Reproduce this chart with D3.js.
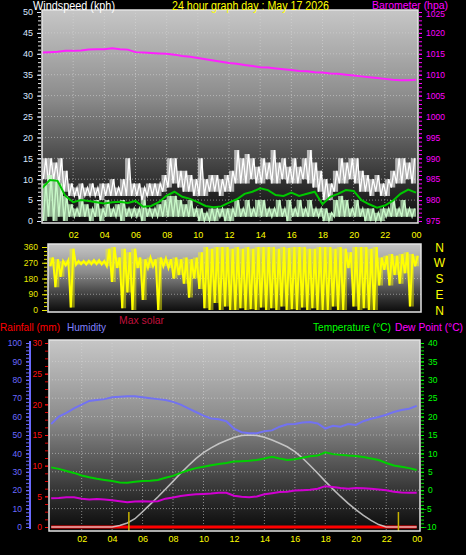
<!DOCTYPE html>
<html><head><meta charset="utf-8">
<script src="https://cdn.jsdelivr.net/npm/d3@7"></script>
<style>html,body{margin:0;padding:0;background:#000;}svg{display:block;font-family:"Liberation Sans",Arial,sans-serif;}</style>
</head><body><svg id="c" width="466" height="555"></svg>
<script>
// ---------------- DATA ----------------
const hourLabels = ["02","04","06","08","10","12","14","16","18","20","22","00"];
// 20-minute intervals (72): wind gust range (kph)
const gustHi = [15,15,14, 15,12,9, 8,9,8, 9,8,9, 9,10,8, 10,15,9, 9,8,9, 9,9,11, 15,15,12, 12,11,10, 15,10,11, 11,10,11,
                12,17,15, 16,15,13, 15,14,17, 14,15,13, 15,13,15, 17,14,12, 10,9,12, 15,14,15, 15,12,11, 10,11,9, 10,12,15, 15,14,15];
const gustLo = [10,9,10, 9,7,6, 6,5,6, 6,6,5, 6,6,6, 6,6,6, 6,5,6, 6,6,7, 8,9,8, 7,7,6, 6,6,7, 7,6,7,
                7,9,9, 9,10,9, 9,10,9, 9,10,9, 9,9,10, 9,8,7, 5,5,7, 9,9,10, 9,7,7, 6,7,6, 6,8,9, 9,10,9];
// 20-minute intervals: wind speed range (kph)
const speedHi = [9,11,10, 9,6,4, 3,5,4, 3,5,3, 5,3,4, 5,3,3, 3,5,3, 3,4,5, 6,6,5, 4,5,3, 3,2,3, 3,3,3,
                 3,5,3, 5,3,5, 5,3,3, 5,3,5, 3,5,3, 5,3,3, 3,2,5, 6,5,3, 5,3,3, 3,2,3, 3,5,3, 5,3,3];
const speedLo = [0,1,0, 1,0,1, 1,1,1, 0,1,0, 1,1,1, 0,1,1, 1,0,1, 1,1,1, 1,1,1, 1,1,1, 0,0,0, 0,1,0,
                 0,1,1, 1,1,1, 1,1,1, 1,1,0, 1,1,1, 1,1,1, 0,0,1, 1,1,1, 1,1,0, 0,0,0, 1,1,1, 1,1,1];
// half-hourly (49): average wind speed (kph)
const avgWind = [7.8,9.8,9.6,6.0,4.5,5.0,4.8,4.5,4.2,4.5,4.6,4.3,4.8,3.4,3.6,4.5,6.1,7.0,5.8,5.3,4.5,3.6,3.3,3.5,
                 4.4,5.2,6.5,7.0,7.8,7.4,6.2,6.0,6.8,6.0,6.5,7.0,4.0,5.8,6.5,7.4,7.2,5.0,4.0,3.2,3.7,4.8,6.5,7.5,6.8];
// half-hourly: barometer (hPa)
const baro = [1015.3,1015.4,1015.5,1015.7,1015.7,1015.8,1016.0,1016.1,1016.1,1016.3,1016.1,1016.0,1015.4,1015.3,1015.2,1015.1,
              1015.0,1014.8,1014.5,1014.3,1014.0,1013.7,1013.4,1013.1,1012.8,1012.6,1012.3,1012.1,1011.8,1011.7,1011.5,1011.3,
              1011.1,1010.9,1010.8,1010.6,1010.5,1010.3,1010.2,1010.0,1009.8,1009.6,1009.4,1009.2,1009.0,1008.8,1008.7,1008.7,1008.8];
// 20-minute intervals: wind direction range (deg)
const dirMax = [300,290,280, 285,350,280, 280,282,285, 285,280,350, 360,300,350, 330,350,300, 290,300,290, 300,295,290,
                300,290,300, 290,300,330, 360,350,360, 360,360,350, 360,350,360, 350,360,360, 360,360,350, 360,355,360,
                360,360,350, 350,360,360, 360,350,360, 350,330,360, 360,360,350, 360,300,310, 320,310,320, 330,320,310];
const dirMin = [250,130,190, 255,15,258, 262,260,262, 262,260,250, 160,240,10, 100,0,240, 57,240,250, 0,250,240,
                180,200,150, 71,180,120, 10,0,40, 0,20,0, 0,10,0, 5,0,15, 0,10,0, 20,0,5,
                0,15,0, 10,0,0, 0,20,0, 0,240,20, 0,10,0, 0,140,230, 140,200,150, 210,20,250];
// half-hourly: humidity (%), temperature, dew point (°C), max solar (scaled 0-100), rainfall (mm)
const humidity = [56,60,62,64.5,66.5,68.5,69,69.5,70.5,70.8,71,71,70.5,70,69.5,69,68,66.5,64.5,62.5,60.5,59,58.5,57.5,
                  53.5,51.5,51,51,52,52.5,54.5,55.8,56,56.8,57,56.3,53.5,55,54.5,56,55.5,57.5,58.8,59.8,61,62.5,63.6,64.3,65.8];
const temperature = [6.2,5.8,5.2,4.7,4.0,3.5,3.1,2.8,2.5,2.1,2.0,2.3,2.5,2.6,2.8,3.4,3.9,4.7,5.4,6.0,6.4,6.8,7.1,7.4,
                     7.8,7.9,8.0,8.2,8.6,9.1,8.6,8.2,8.4,8.8,9.2,9.4,10.3,9.8,9.6,9.4,9.3,9.0,8.6,8.2,7.4,6.7,6.4,6.0,5.5];
const dewPoint = [-2.2,-2.1,-1.9,-1.9,-2.3,-2.5,-2.4,-2.5,-2.7,-3.0,-3.3,-3.1,-3.0,-3.1,-3.0,-2.3,-2.0,-1.6,-1.3,-1.1,-1.0,-0.9,-0.7,-0.7,
                  -1.5,-1.8,-1.9,-1.7,-1.1,-0.8,-0.5,-0.4,-0.1,0.0,0.1,0.4,1.1,0.9,0.6,0.4,0.6,0.5,0.4,0.2,0.0,-0.4,-0.6,-0.7,-0.7];
const maxSolar = [0,0,0,0,0,0,0,0,0,0.8,2.2,4.5,8.3,12.3,16.3,20.5,24.8,29.2,33.3,37.2,40.4,43.0,45.2,47.0,
                  48.7,49.7,50.0,49.8,48.8,47.3,45.5,43.6,41.0,37.5,33.4,29.2,24.8,20.6,16.6,12.8,9.4,6.3,3.6,1.3,0,0,0,0,0];
const rainfall = [0,0,0,0,0,0,0,0,0,0,0,0,0,0,0,0,0,0,0,0,0,0,0,0,0,0,0,0,0,0,0,0,0,0,0,0,0,0,0,0,0,0,0,0,0,0,0,0,0];
const sunMarks = [5.1, 22.8];
const compass = ["N","W","S","E","N"];

// ---------------- DRAW ----------------
const svg = d3.select("#c");
const defs = svg.append("defs");
function grad(id){
  const g = defs.append("linearGradient").attr("id",id).attr("x1",0).attr("x2",0).attr("y1",0).attr("y2",1);
  [[0,"#c6c6c6"],[0.2,"#ababab"],[0.42,"#8a8a8a"],[0.64,"#575757"],[0.82,"#2e2e2e"],[1,"#0a0a0a"]]
    .forEach(s=>g.append("stop").attr("offset",s[0]).attr("stop-color",s[1]));
}
grad("bg");
svg.append("rect").attr("width",466).attr("height",555).attr("fill","#000");

const halfT = i => i/2;          // half-hour sample times
const thirdT = i => i/3;         // 20-min interval start times

function plotBox(x0,y0,x1,y1){
  svg.append("rect").attr("x",x0).attr("y",y0).attr("width",x1-x0).attr("height",y1-y0).attr("fill","url(#bg)");
}
function frame(x0,y0,x1,y1){
  svg.append("rect").attr("x",x0).attr("y",y0).attr("width",x1-x0).attr("height",y1-y0)
    .attr("fill","none").attr("stroke","#e4e4e4").attr("stroke-width",1.5);
}
function zig(lo,hi,x,y){
  const p=[];
  lo.forEach((l,i)=>{const t=thirdT(i); p.push([x(t+1/12),y(l)]); p.push([x(t+3/12),y(hi[i])]);});
  return p;
}
function bandPath(lo,hi,x,y){
  const lo2 = lo.concat([lo[lo.length-1]]), hi2 = hi.concat([hi[hi.length-1]]);
  return d3.area().curve(d3.curveStepAfter).x((d,i)=>x(thirdT(i))).y0((d,i)=>y(lo2[i])).y1((d,i)=>y(hi2[i]))(hi2);
}
const grid = {stroke:"#d8d8d8","stroke-dasharray":"1,2","stroke-opacity":0.55,"stroke-width":1};
function applyAttrs(sel,o){for(const k in o) sel.attr(k,o[k]); return sel;}
function styleAxis(g,color,size){
  g.select(".domain").remove();
  g.selectAll("line").attr("stroke",color);
  g.selectAll("text").attr("fill",color).style("font-size",size+"px").style("font-family",'"Liberation Sans",Arial,sans-serif');
}

// ===== TOP CHART =====
const xTop = d3.scaleLinear().domain([0,24]).range([42,416]);
const yWind = d3.scaleLinear().domain([0,50]).range([221,12]);
const yBaro = d3.scaleLinear().domain([975,1025]).range([221,12]);
plotBox(42,10,418,223);
d3.range(5,50,5).forEach(v=>applyAttrs(svg.append("line").attr("x1",42).attr("x2",418).attr("y1",yWind(v)).attr("y2",yWind(v)),grid));
d3.range(2,24,2).forEach(t=>applyAttrs(svg.append("line").attr("x1",xTop(t)).attr("x2",xTop(t)).attr("y1",10).attr("y2",223),grid));

const line = d3.line();
svg.append("path").attr("d",bandPath(gustLo,gustHi,xTop,yWind)).attr("fill","#ffffff").attr("fill-opacity",0.6);
svg.append("path").attr("d",line(zig(gustLo,gustHi,xTop,yWind))).attr("fill","none").attr("stroke","#ffffff").attr("stroke-width",1.3);
svg.append("path").attr("d",bandPath(speedLo,speedHi,xTop,yWind)).attr("fill","#c8f8c8").attr("fill-opacity",0.7);
svg.append("path").attr("d",line(zig(speedLo,speedHi,xTop,yWind))).attr("fill","none").attr("stroke","#c8f8c8").attr("stroke-width",1.4);
svg.append("path").attr("d",d3.line().x((d,i)=>xTop(halfT(i))).y(d=>yWind(d))(avgWind)).attr("fill","none").attr("stroke","#00c800").attr("stroke-width",2);
svg.append("path").attr("d",d3.line().x((d,i)=>xTop(halfT(i))).y(d=>yBaro(d))(baro)).attr("fill","none").attr("stroke","#ff20ff").attr("stroke-width",2);
frame(42,10,418,223);

let g = svg.append("g").attr("transform","translate(41,0)").call(d3.axisLeft(yWind).tickValues(d3.range(0,51,1)).tickFormat("").tickSize(3));
styleAxis(g,"#e8e8e8",9);
g = svg.append("g").attr("transform","translate(41,0)").call(d3.axisLeft(yWind).tickValues(d3.range(0,51,5)).tickSize(4).tickPadding(4));
styleAxis(g,"#d8e6ff",9);
g = svg.append("g").attr("transform","translate(419,0)").call(d3.axisRight(yBaro).tickValues(d3.range(975,1026,1)).tickFormat("").tickSize(3));
styleAxis(g,"#ff00ff",8.5);
g = svg.append("g").attr("transform","translate(419,0)").call(d3.axisRight(yBaro).tickValues(d3.range(975,1026,5)).tickFormat(d3.format("d")).tickSize(3).tickPadding(4));
styleAxis(g,"#ff00ff",8.5);
g.selectAll(".tick text").filter(d=>d===1025).attr("dy","0.55em");
g = svg.append("g").attr("transform","translate(0,224)").call(d3.axisBottom(xTop).tickValues(d3.range(2,25,2)).tickFormat((d,i)=>hourLabels[i]).tickSize(0).tickPadding(8));
styleAxis(g,"#ffff00",9);

function label(x,y,color,len,txt,size){
  svg.append("text").attr("x",x).attr("y",y).attr("fill",color).style("font-size",(size||11)+"px")
    .attr("textLength",len).attr("lengthAdjust","spacingAndGlyphs").text(txt);
}
label(33,9.5,"#ffffff",82,"Windspeed (kph)",12);
label(172,9.5,"#ffff00",157,"24 hour graph day : May 17 2026",12);
label(372,8.5,"#ff00ff",76,"Barometer (hpa)",11);

// ===== MIDDLE CHART (wind direction) =====
const xMid = d3.scaleLinear().domain([0,24]).range([49,419]);
const yDir = d3.scaleLinear().domain([0,360]).range([310,247]);
plotBox(48,244,421,312);
[90,180,270].forEach(v=>applyAttrs(svg.append("line").attr("x1",48).attr("x2",421).attr("y1",yDir(v)).attr("y2",yDir(v)),grid));
svg.append("path").attr("d",bandPath(dirMin,dirMax,xMid,yDir)).attr("fill","#ffff00").attr("fill-opacity",0.45);
svg.append("path").attr("d",line(zig(dirMin,dirMax,xMid,yDir))).attr("fill","none").attr("stroke","#ffff00").attr("stroke-width",2);
frame(48,244,421,312);
g = svg.append("g").attr("transform","translate(47,0)").call(d3.axisLeft(yDir).tickValues(d3.range(0,361,22.5)).tickFormat("").tickSize(3));
styleAxis(g,"#e8e800",8.5);
g = svg.append("g").attr("transform","translate(47,0)").call(d3.axisLeft(yDir).tickValues([0,90,180,270,360]).tickSize(5).tickPadding(4));
styleAxis(g,"#e8e800",8.5);
compass.forEach((c,i)=>svg.append("text").attr("x",439.5).attr("y",yDir(360-i*90)+4.5).attr("text-anchor","middle")
   .attr("fill","#ffff00").style("font-size","12px").text(c));

// ===== BOTTOM CHART =====
const xBot = d3.scaleLinear().domain([0,24]).range([51.2,416.7]);
const yHum = d3.scaleLinear().domain([0,100]).range([527,343]);
const yRain = d3.scaleLinear().domain([0,30]).range([527,343]);
const yTemp = d3.scaleLinear().domain([-10,40]).range([527,343]);
plotBox(49,340,420,531);
d3.range(-5,40,5).forEach(v=>applyAttrs(svg.append("line").attr("x1",49).attr("x2",420).attr("y1",yTemp(v)).attr("y2",yTemp(v)),grid));
d3.range(2,24,2).forEach(t=>applyAttrs(svg.append("line").attr("x1",xBot(t)).attr("x2",xBot(t)).attr("y1",340).attr("y2",531),grid));

const lh = () => d3.line().x((d,i)=>xBot(halfT(i)));
svg.append("path").attr("d",lh().y(d=>yRain(d))(rainfall)).attr("fill","none").attr("stroke","#ff0000").attr("stroke-width",3);
svg.append("path").attr("d",lh().y(d=>yHum(d))(maxSolar)).attr("fill","none").attr("stroke","#d4d4d4").attr("stroke-width",1.6).attr("stroke-opacity",0.85);
svg.append("path").attr("d",lh().y(d=>yHum(d))(humidity)).attr("fill","none").attr("stroke","#7272f2").attr("stroke-width",2);
svg.append("path").attr("d",lh().y(d=>yTemp(d))(temperature)).attr("fill","none").attr("stroke","#00d000").attr("stroke-width",2);
svg.append("path").attr("d",lh().y(d=>yTemp(d))(dewPoint)).attr("fill","none").attr("stroke","#d000d0").attr("stroke-width",2);
sunMarks.forEach(t=>svg.append("line").attr("x1",xBot(t)).attr("x2",xBot(t)).attr("y1",512).attr("y2",531).attr("stroke","#c8b400").attr("stroke-width",1.5));
frame(49,340,420,531);

// humidity axis
svg.append("line").attr("x1",30).attr("x2",30).attr("y1",341).attr("y2",529).attr("stroke","#6a6aff").attr("stroke-width",2);
g = svg.append("g").attr("transform","translate(29,0)").call(d3.axisLeft(yHum).tickValues(d3.range(0,101,2)).tickFormat("").tickSize(3));
styleAxis(g,"#6a6aff",8.5);
g = svg.append("g").attr("transform","translate(29,0)").call(d3.axisLeft(yHum).tickValues(d3.range(0,101,10)).tickSize(3).tickPadding(4));
styleAxis(g,"#6a6aff",8.5);
// rainfall axis
g = svg.append("g").attr("transform","translate(48,0)").call(d3.axisLeft(yRain).tickValues(d3.range(0,30.1,1.25)).tickFormat("").tickSize(3));
styleAxis(g,"#e00000",8.5);
g = svg.append("g").attr("transform","translate(48,0)").call(d3.axisLeft(yRain).tickValues(d3.range(0,31,5)).tickSize(3).tickPadding(3));
styleAxis(g,"#ff1010",8.5);
// temperature axis
g = svg.append("g").attr("transform","translate(421,0)").call(d3.axisRight(yTemp).tickValues(d3.range(-10,41,1)).tickFormat("").tickSize(3));
styleAxis(g,"#00e000",8.5);
g = svg.append("g").attr("transform","translate(421,0)").call(d3.axisRight(yTemp).tickValues(d3.range(-10,41,5)).tickSize(3).tickPadding(4));
styleAxis(g,"#00ff00",8.5);
g.selectAll(".tick text").attr("x",d=>d<0?1:7);
g = svg.append("g").attr("transform","translate(0,531)").call(d3.axisBottom(xBot).tickValues(d3.range(2,25,2)).tickFormat((d,i)=>hourLabels[i]).tickSize(0).tickPadding(5));
styleAxis(g,"#ffff00",9);

label(0,331,"#ff0000",60,"Rainfall (mm)");
label(67,331,"#8080ff",39,"Humidity");
label(119,324,"#c0103c",45,"Max solar");
label(313,331,"#00ff00",78,"Temperature (°C)",10.5);
label(395,331,"#ff00ff",68,"Dew Point (°C)",10.5);
</script></body></html>
